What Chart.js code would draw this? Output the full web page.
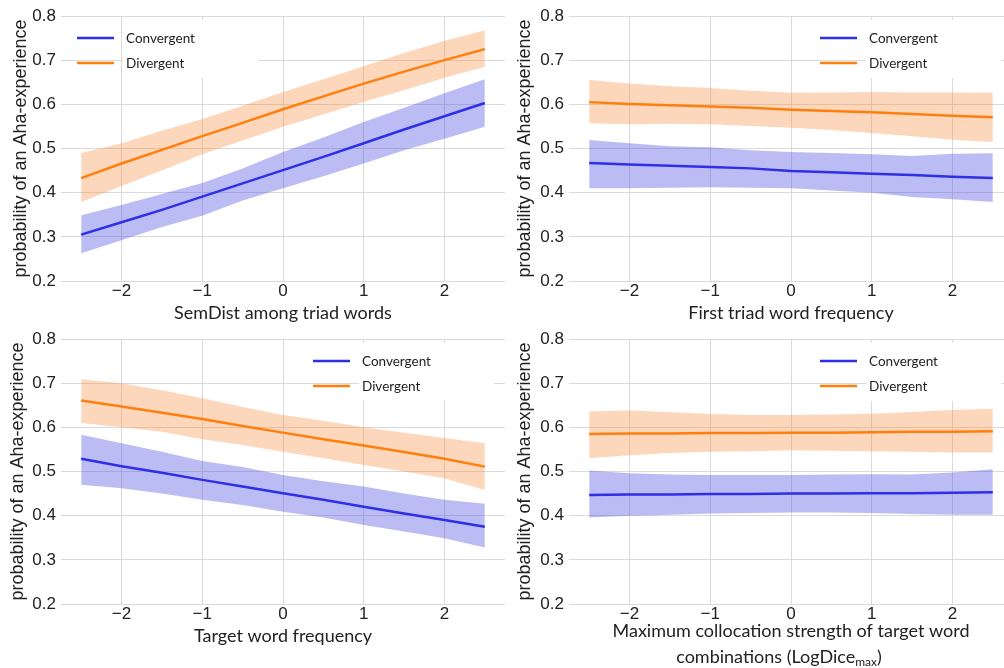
<!DOCTYPE html>
<html>
<head>
<meta charset="utf-8">
<script src="https://cdn.jsdelivr.net/npm/chart.js@4.4.1/dist/chart.umd.min.js"></script>
<style>
  html, body { margin: 0; padding: 0; background: #fff; overflow: hidden; }
  body { width: 1004px; height: 668px; position: relative; }
  canvas { position: absolute; }
</style>
</head>
<body>
<canvas id="p1" width="505" height="330" style="left:0;top:0"></canvas>
<canvas id="p2" width="508" height="330" style="left:505px;top:0"></canvas>
<canvas id="p3" width="505" height="345" style="left:0;top:323px"></canvas>
<canvas id="p4" width="508" height="345" style="left:505px;top:323px"></canvas>
<script>
// x positions of the predicted values (standardised predictor)
const xs = [-2.5, -2, -1.5, -1, -0.5, 0, 0.5, 1, 1.5, 2, 2.5];
const xTicks = [-2, -1, 0, 1, 2];
const yTicks = [0.2, 0.3, 0.4, 0.5, 0.6, 0.7, 0.8];
const seriesNames = ["Convergent", "Divergent"];

// panel 1: SemDist among triad words
const semConv   = [0.305, 0.333, 0.361, 0.391, 0.421, 0.451, 0.481, 0.512, 0.543, 0.573, 0.603];
const semConvHi = [0.349, 0.372, 0.397, 0.422, 0.455, 0.492, 0.525, 0.560, 0.592, 0.625, 0.657];
const semConvLo = [0.263, 0.292, 0.322, 0.348, 0.382, 0.410, 0.437, 0.466, 0.496, 0.522, 0.549];
const semDiv    = [0.433, 0.466, 0.497, 0.528, 0.558, 0.589, 0.618, 0.647, 0.674, 0.700, 0.725];
const semDivHi  = [0.490, 0.512, 0.540, 0.567, 0.597, 0.628, 0.657, 0.686, 0.716, 0.744, 0.768];
const semDivLo  = [0.379, 0.415, 0.450, 0.487, 0.518, 0.549, 0.577, 0.606, 0.632, 0.660, 0.685];

// panel 2: first triad word frequency
const frqConv   = [0.467, 0.464, 0.461, 0.458, 0.455, 0.449, 0.446, 0.443, 0.440, 0.436, 0.433];
const frqConvHi = [0.519, 0.512, 0.505, 0.503, 0.496, 0.492, 0.490, 0.487, 0.483, 0.488, 0.489];
const frqConvLo = [0.410, 0.410, 0.411, 0.412, 0.411, 0.410, 0.405, 0.400, 0.390, 0.385, 0.379];
const frqDiv    = [0.605, 0.601, 0.598, 0.595, 0.592, 0.588, 0.585, 0.582, 0.578, 0.574, 0.571];
const frqDivHi  = [0.655, 0.647, 0.641, 0.637, 0.631, 0.626, 0.627, 0.628, 0.627, 0.627, 0.626];
const frqDivLo  = [0.557, 0.555, 0.556, 0.555, 0.551, 0.547, 0.542, 0.535, 0.528, 0.520, 0.515];

// panel 3: target word frequency
const tgtConv   = [0.529, 0.512, 0.497, 0.481, 0.466, 0.451, 0.436, 0.420, 0.405, 0.390, 0.375];
const tgtConvHi = [0.583, 0.564, 0.545, 0.524, 0.510, 0.492, 0.478, 0.466, 0.450, 0.436, 0.427];
const tgtConvLo = [0.470, 0.462, 0.450, 0.436, 0.424, 0.409, 0.396, 0.379, 0.364, 0.349, 0.328];
const tgtDiv    = [0.661, 0.647, 0.633, 0.619, 0.603, 0.588, 0.573, 0.559, 0.544, 0.529, 0.511];
const tgtDivHi  = [0.709, 0.700, 0.684, 0.666, 0.646, 0.628, 0.615, 0.600, 0.588, 0.576, 0.564];
const tgtDivLo  = [0.610, 0.600, 0.590, 0.573, 0.560, 0.545, 0.530, 0.515, 0.500, 0.485, 0.458];

// panel 4: maximum collocation strength (LogDice max)
const ldcConv   = [0.447, 0.448, 0.448, 0.449, 0.449, 0.450, 0.450, 0.451, 0.451, 0.452, 0.453];
const ldcConvHi = [0.502, 0.496, 0.493, 0.492, 0.492, 0.492, 0.493, 0.494, 0.493, 0.498, 0.505];
const ldcConvLo = [0.396, 0.400, 0.402, 0.405, 0.406, 0.407, 0.407, 0.406, 0.404, 0.402, 0.402];
const ldcDiv    = [0.585, 0.586, 0.586, 0.587, 0.587, 0.588, 0.588, 0.589, 0.590, 0.590, 0.591];
const ldcDivHi  = [0.636, 0.638, 0.634, 0.630, 0.628, 0.628, 0.629, 0.631, 0.635, 0.639, 0.642];
const ldcDivLo  = [0.530, 0.537, 0.542, 0.545, 0.546, 0.548, 0.547, 0.546, 0.545, 0.543, 0.543];

const BLUE = "#2f2fe8";
const ORANGE = "#ff7f0e";
const BLUE_BAND = "rgba(80, 80, 230, 0.38)";
const ORANGE_BAND = "rgba(245, 140, 60, 0.35)";
const GRID = "#dadada";
const TEXT = "#222";

const pts = arr => arr.map((y, i) => ({ x: xs[i], y: y }));

// small legend drawn inside the plot area (white box behind the labels only)
const miniLegend = {
  id: "miniLegend",
  afterDraw(chart, args, opts) {
    if (!opts || opts.x === undefined) return;
    const ctx = chart.ctx;
    const colors = [BLUE, ORANGE];
    ctx.save();
    ctx.fillStyle = "#fff";
    ctx.fillRect(opts.x + 46, opts.y - 18, 135, 58);
    ctx.font = "13.5px Lato";
    ctx.textBaseline = "middle";
    seriesNames.forEach((name, i) => {
      const y = opts.y + i * 25;
      ctx.strokeStyle = colors[i];
      ctx.lineWidth = 2.5;
      ctx.beginPath();
      ctx.moveTo(opts.x, y);
      ctx.lineTo(opts.x + 37, y);
      ctx.stroke();
      ctx.fillStyle = TEXT;
      ctx.fillText(name, opts.x + 49, y + 1);
    });
    ctx.restore();
  }
};

// second line of the panel 4 axis title, with a subscript
const subTitle = {
  id: "subTitle",
  afterDraw(chart, args, opts) {
    if (!opts || !opts.y) return;
    const ctx = chart.ctx;
    const main = "combinations (LogDice";
    const sub = "max";
    ctx.save();
    ctx.fillStyle = TEXT;
    ctx.textBaseline = "alphabetic";
    ctx.font = "18px Lato";
    const w1 = ctx.measureText(main).width;
    const w3 = ctx.measureText(")").width;
    ctx.font = "12px Lato";
    const w2 = ctx.measureText(sub).width;
    const total = w1 + w2 + w3;
    let x = opts.cx - total / 2;
    ctx.font = "18px Lato";
    ctx.fillText(main, x, opts.y);
    x += w1;
    ctx.font = "12px Lato";
    ctx.fillText(sub, x, opts.y + 3);
    x += w2;
    ctx.font = "18px Lato";
    ctx.fillText(")", x, opts.y);
    ctx.restore();
  }
};

function makePanel(id, p) {
  const datasets = [
    { data: pts(p.convHi), fill: "+1", backgroundColor: BLUE_BAND, borderWidth: 0, pointRadius: 0, order: 2 },
    { data: pts(p.convLo), fill: false, borderWidth: 0, pointRadius: 0, order: 2 },
    { data: pts(p.divHi), fill: "+1", backgroundColor: ORANGE_BAND, borderWidth: 0, pointRadius: 0, order: 2 },
    { data: pts(p.divLo), fill: false, borderWidth: 0, pointRadius: 0, order: 2 },
    { label: seriesNames[0], data: pts(p.conv), borderColor: BLUE, borderWidth: 2.5, pointRadius: 0, fill: false, order: 0 },
    { label: seriesNames[1], data: pts(p.div), borderColor: ORANGE, borderWidth: 2.5, pointRadius: 0, fill: false, order: 0 }
  ];

  return new Chart(document.getElementById(id), {
    type: "line",
    data: { datasets: datasets },
    plugins: [miniLegend, subTitle],
    options: {
      responsive: false,
      animation: false,
      events: [],
      layout: { padding: { top: 16, right: 0, left: 0, bottom: 0 } },
      plugins: {
        legend: { display: false },
        tooltip: { enabled: false },
        miniLegend: p.legend,
        subTitle: p.sub || {}
      },
      scales: {
        x: {
          type: "linear",
          min: -2.75,
          max: 2.75,
          afterBuildTicks: s => { s.ticks = xTicks.map(v => ({ value: v })); },
          afterFit: s => { s.height = p.xh; },
          border: { display: false },
          grid: { color: GRID, drawTicks: false },
          ticks: {
            padding: 0,
            color: TEXT,
            font: { family: "Liberation Sans", size: 17 },
            callback: v => (v < 0 ? "\u2212" + Math.abs(v) : String(v))
          },
          title: {
            display: true,
            text: p.xTitle,
            color: TEXT,
            font: { family: "Lato", size: 18 },
            padding: { top: 0, bottom: p.xtb }
          }
        },
        y: {
          min: 0.2,
          max: 0.8,
          afterBuildTicks: s => { s.ticks = yTicks.map(v => ({ value: v })); },
          afterFit: s => { s.width = p.yw; },
          border: { display: false },
          grid: { color: GRID, drawTicks: false },
          ticks: {
            padding: 5,
            color: TEXT,
            font: { family: "Liberation Sans", size: 17 },
            callback: v => v.toFixed(1)
          },
          title: {
            display: true,
            text: "probability of an Aha-experience",
            color: TEXT,
            font: { family: "Liberation Sans", size: 18 },
            padding: { top: p.ytp, bottom: 0 }
          }
        }
      }
    }
  });
}

makePanel("p1", {
  conv: semConv, convHi: semConvHi, convLo: semConvLo,
  div: semDiv, divHi: semDivHi, divLo: semDivLo,
  xTitle: "SemDist among triad words", xh: 49, xtb: 6, yw: 61, ytp: 10,
  legend: { x: 77, y: 38 }
});
makePanel("p2", {
  conv: frqConv, convHi: frqConvHi, convLo: frqConvLo,
  div: frqDiv, divHi: frqDivHi, divLo: frqDivLo,
  xTitle: "First triad word frequency", xh: 49, xtb: 6, yw: 64, ytp: 9,
  legend: { x: 315, y: 38 }
});
makePanel("p3", {
  conv: tgtConv, convHi: tgtConvHi, convLo: tgtConvLo,
  div: tgtDiv, divHi: tgtDivHi, divLo: tgtDivLo,
  xTitle: "Target word frequency", xh: 64, xtb: 21, yw: 61, ytp: 7,
  legend: { x: 313, y: 38 }
});
makePanel("p4", {
  conv: ldcConv, convHi: ldcConvHi, convLo: ldcConvLo,
  div: ldcDiv, divHi: ldcDivHi, divLo: ldcDivLo,
  xTitle: "Maximum collocation strength of target word", xh: 64, xtb: 26, yw: 64, ytp: 9,
  legend: { x: 315, y: 38 },
  sub: { cx: 274, y: 340 }
});
</script>
</body>
</html>
